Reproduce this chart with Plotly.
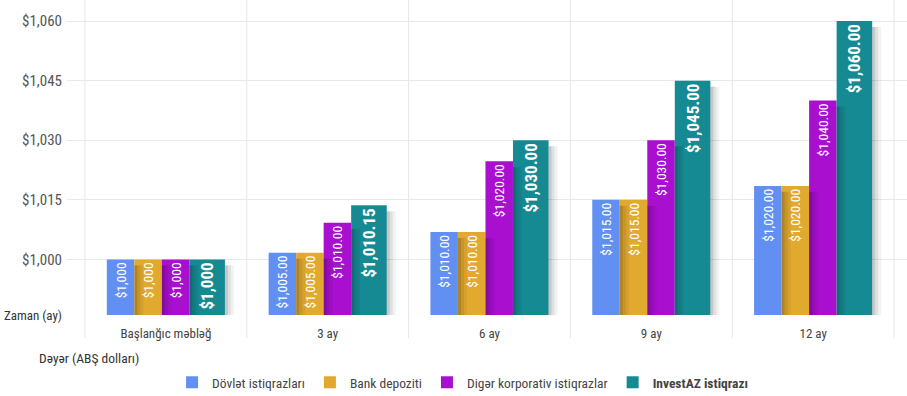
import plotly.graph_objects as go
import numpy as np

categories = ["Başlanğıc məbləğ", "3 ay", "6 ay", "9 ay", "12 ay"]
series_names = ["Dövlət istiqrazları", "Bank depoziti", "Digər korporativ istiqrazlar", "InvestAZ istiqrazı"]
# bar heights as drawn in the picture
dovlet_vals = [1000, 1001.7, 1006.9, 1015, 1018.5]
bank_vals = [1000, 1001.7, 1006.9, 1015, 1018.5]
diger_vals = [1000, 1009.2, 1024.7, 1030, 1040]
invest_vals = [1000, 1013.6, 1030, 1045, 1060]
# value labels printed on the bars
dovlet_labels = ["$1,000", "$1,005.00", "$1,010.00", "$1,015.00", "$1,020.00"]
bank_labels = ["$1,000", "$1,005.00", "$1,010.00", "$1,015.00", "$1,020.00"]
diger_labels = ["$1,000", "$1,010.00", "$1,020.00", "$1,030.00", "$1,040.00"]
invest_labels = ["$1,000", "$1,010.15", "$1,030.00", "$1,045.00", "$1,060.00"]
y_tick_vals = [1000, 1015, 1030, 1045, 1060]
y_tick_text = ["$1,000", "$1,015", "$1,030", "$1,045", "$1,060"]

FONT = "Roboto Condensed, DejaVu Sans Condensed, sans-serif"
colors = ["#6290F2", "#E2A92F", "#A80FCF", "#168A93"]
widths = [0.17, 0.17, 0.17, 0.22]
offsets = [-0.365, -0.195, -0.025, 0.145]
Y0 = 986.0
Y1 = 1065.3

vals = [dovlet_vals, bank_vals, diger_vals, invest_vals]
labels = [dovlet_labels, bank_labels, diger_labels, invest_labels]

fig = go.Figure()
for i in range(4):
    bold = i == 3
    fig.add_trace(go.Bar(
        x=categories, y=np.array(vals[i]) - Y0, base=Y0,
        name=("<b>%s</b>" % series_names[i]) if bold else series_names[i],
        marker=dict(color=colors[i], line=dict(width=0)),
        width=widths[i], offset=offsets[i],
        text=[("<b>%s</b>" % t) if bold else t for t in labels[i]],
        textposition="inside", insidetextanchor="end", textangle=-90,
        textfont=dict(family=FONT, size=17 if bold else 13.5, color="white"),
        cliponaxis=False, hoverinfo="skip",
    ))

# soft drop shadows to the right of each bar
s = 3 / 161.8
for i in range(4):
    for k, a in enumerate([0.22, 0.12, 0.05]):
        fig.add_trace(go.Bar(
            x=categories, y=np.array(vals[i]) - 1.5 - Y0, base=Y0,
            marker=dict(color="rgba(0,0,0,%s)" % a, line=dict(width=0)),
            width=s, offset=offsets[i] + widths[i] + k * s,
            showlegend=False, hoverinfo="skip",
        ))

shapes = []
for b in [-0.5, 0.5, 1.5, 2.5, 3.5, 4.5]:
    shapes.append(dict(type="line", xref="x", yref="paper", x0=b, x1=b, y0=-0.073, y1=1,
                       line=dict(color="#E6E6E6", width=1), layer="below"))

fig.update_layout(
    width=907, height=396,
    margin=dict(l=67, r=0, t=0, b=81),
    paper_bgcolor="white", plot_bgcolor="white",
    barmode="overlay",
    shapes=shapes,
    font=dict(family=FONT, size=13, color="#444"),
    xaxis=dict(range=[-0.611, 4.58], showgrid=False, zeroline=False, ticks="", automargin=False,
               tickfont=dict(family=FONT, size=13, color="#444"), ticklabelstandoff=9,
               fixedrange=True),
    yaxis=dict(range=[Y0, Y1], tickvals=[Y0] + y_tick_vals, automargin=False,
               ticktext=["<span style='color:#333;font-size:13px'>Zaman (ay)</span>"] + y_tick_text,
               gridcolor="#E8E8E8", gridwidth=1, zeroline=False, ticks="",
               tickfont=dict(family=FONT, size=15, color="#555"), ticklabelstandoff=4),
    legend=dict(orientation="h", xref="container", yref="container", x=0.51, y=1 - 367 / 396,
                xanchor="center", yanchor="top",
                font=dict(family=FONT, size=13.5, color="#444"), traceorder="normal"),
    annotations=[dict(text="Dəyər (ABŞ dolları)", xref="paper", yref="paper",
                      x=-(67 - 37) / 840, y=-(358 - 315) / 315, xanchor="left", yanchor="middle",
                      showarrow=False, font=dict(family=FONT, size=13.5, color="#333"))],
)

fig.write_html("out.html", config={"displayModeBar": False},
               post_script="document.body.style.margin='0';document.documentElement.style.overflow='hidden';")
